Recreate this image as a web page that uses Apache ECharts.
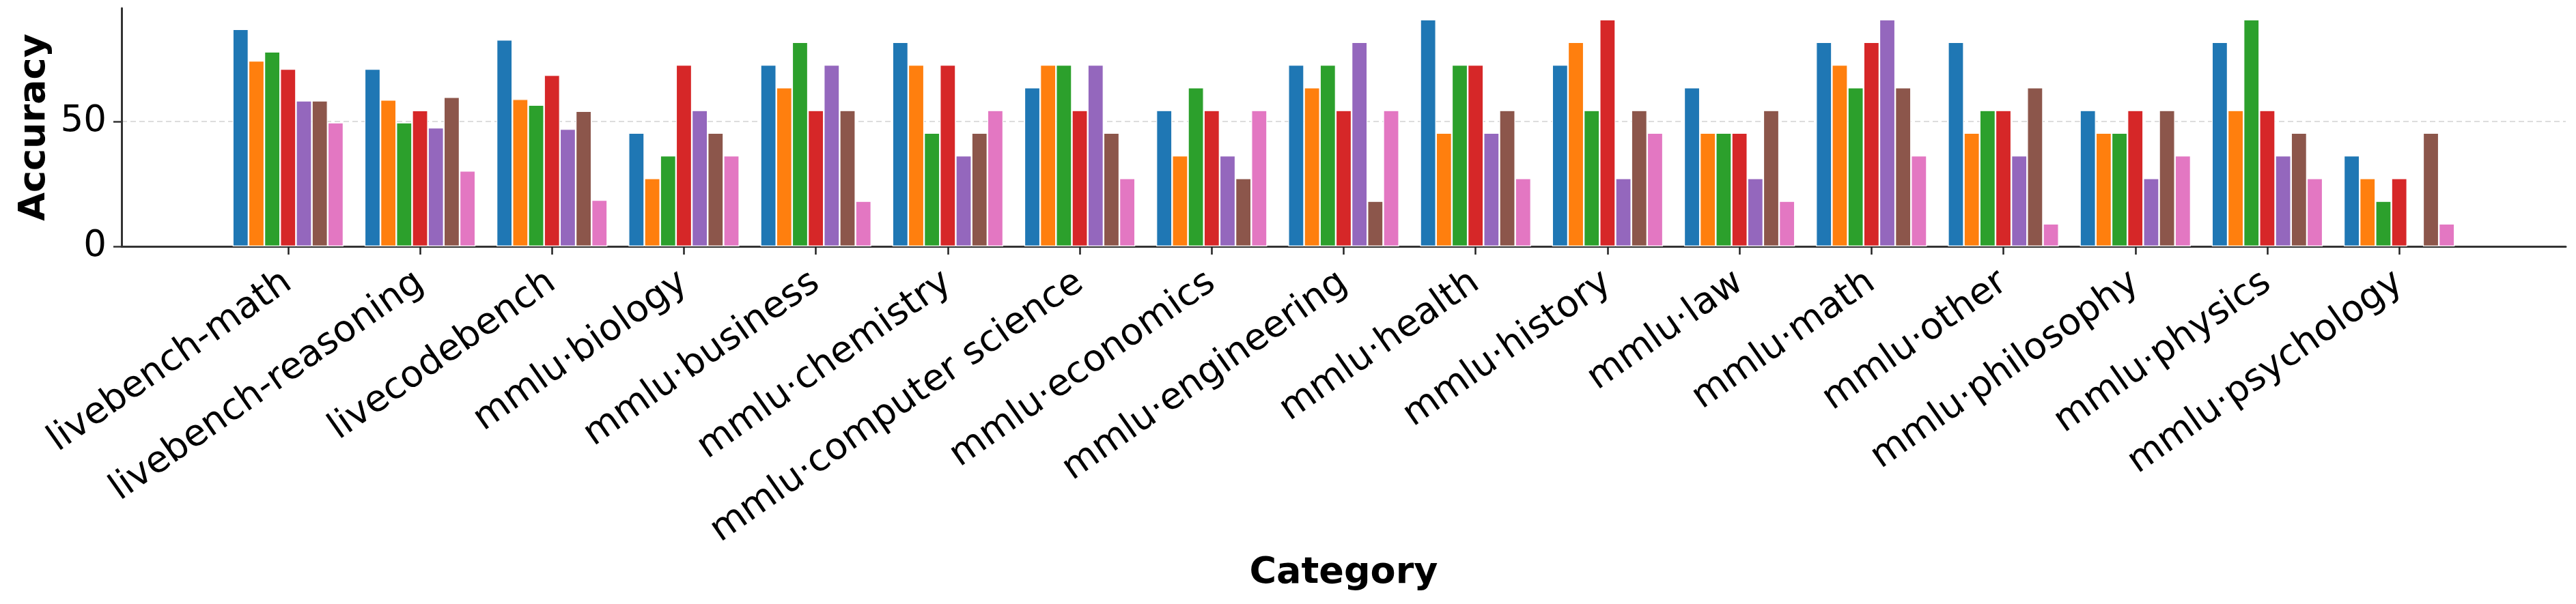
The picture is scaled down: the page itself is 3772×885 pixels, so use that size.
<!DOCTYPE html>
<html><head><meta charset="utf-8">
<script src="https://cdn.jsdelivr.net/npm/echarts@6/dist/echarts.min.js"></script>
<style>html,body{margin:0;padding:0;background:#fff}#c{width:3772px;height:885px}</style>
</head><body><div id="c"></div>
<script>
const categories = ['livebench-math','livebench-reasoning','livecodebench','mmlu·biology','mmlu·business','mmlu·chemistry','mmlu·computer science','mmlu·economics','mmlu·engineering','mmlu·health','mmlu·history','mmlu·law','mmlu·math','mmlu·other','mmlu·philosophy','mmlu·physics','mmlu·psychology'];
const seriesNames = ['Model 1','Model 2','Model 3','Model 4','Model 5','Model 6','Model 7'];
const colors = ['#1f77b4','#ff7f0e','#2ca02c','#d62728','#9467bd','#8c564b','#e377c2'];
const model1 = [87.0, 71.1, 82.8, 45.45, 72.73, 81.82, 63.64, 54.55, 72.73, 90.91, 72.73, 63.64, 81.82, 81.82, 54.55, 81.82, 36.36];
const model2 = [74.4, 58.7, 59.0, 27.27, 63.64, 72.73, 72.73, 36.36, 63.64, 45.45, 81.82, 45.45, 72.73, 45.45, 45.45, 54.55, 27.27];
const model3 = [78.0, 49.6, 56.7, 36.36, 81.82, 45.45, 72.73, 63.64, 72.73, 72.73, 54.55, 45.45, 63.64, 54.55, 45.45, 90.91, 18.18];
const model4 = [71.1, 54.5, 68.6, 72.73, 54.55, 72.73, 54.55, 54.55, 54.55, 72.73, 90.91, 45.45, 81.82, 54.55, 54.55, 54.55, 27.27];
const model5 = [58.4, 47.6, 47.0, 54.55, 72.73, 36.36, 72.73, 36.36, 81.82, 45.45, 27.27, 27.27, 90.91, 36.36, 27.27, 36.36, null];
const model6 = [58.4, 59.8, 54.2, 45.45, 54.55, 45.45, 45.45, 27.27, 18.18, 54.55, 54.55, 54.55, 63.64, 63.64, 54.55, 45.45, 45.45];
const model7 = [49.6, 30.3, 18.6, 36.36, 18.18, 54.55, 27.27, 54.55, 54.55, 27.27, 45.45, 18.18, 36.36, 9.09, 36.36, 27.27, 9.09];
const yTicks = [0, 50];
const xTitle = 'Category';
const yTitle = 'Accuracy';

const allSeries = [model1, model2, model3, model4, model5, model6, model7];
const xTickValues = categories.map((c, i) => i);
const FONT = 'DejaVu Sans';

const chart = echarts.init(document.getElementById('c'), null, {renderer: 'canvas'});
chart.setOption({
  animation: false,
  backgroundColor: '#ffffff',
  grid: {left: 178, right: 15, top: 12, bottom: 524, containLabel: false},
  xAxis: {
    type: 'value',
    min: -1.262, max: 17.262,
    name: xTitle, nameLocation: 'middle', nameGap: 452,
    nameTextStyle: {fontFamily: FONT, fontWeight: 'bold', fontSize: 54, color: '#000'},
    axisLine: {show: true, onZero: false, lineStyle: {color: '#333', width: 3}},
    axisTick: {show: true, customValues: xTickValues, length: 12, lineStyle: {color: '#222', width: 2.5}},
    axisLabel: {show: true, customValues: xTickValues, rotate: 35, margin: 48,
      fontFamily: FONT, fontSize: 54, color: '#000',
      formatter: v => categories[Math.round(v)] || ''},
    splitLine: {show: false}
  },
  yAxis: {
    type: 'value',
    min: 0, max: 95.45,
    name: yTitle, nameLocation: 'middle', nameGap: 88, nameRotate: 90,
    nameTextStyle: {fontFamily: FONT, fontWeight: 'bold', fontSize: 54, color: '#000'},
    axisLine: {show: true, onZero: false, lineStyle: {color: '#333', width: 3}},
    axisTick: {show: true, customValues: yTicks, length: 12, lineStyle: {color: '#333', width: 2.5}},
    axisLabel: {show: true, customValues: yTicks, margin: 22, fontFamily: FONT, fontSize: 53, color: '#000'},
    splitLine: {show: true, lineStyle: {color: '#dddddd', width: 2, type: [8, 5]}}
  },
  series: allSeries.map((vals, k) => ({
    type: 'bar',
    name: seriesNames[k],
    data: vals.map((v, i) => [i, v]),
    barWidth: '12%',
    barGap: '0%',
    itemStyle: {color: colors[k], borderColor: '#ffffff', borderWidth: 1.2},
    emphasis: {disabled: true}
  }))
});
</script></body></html>
